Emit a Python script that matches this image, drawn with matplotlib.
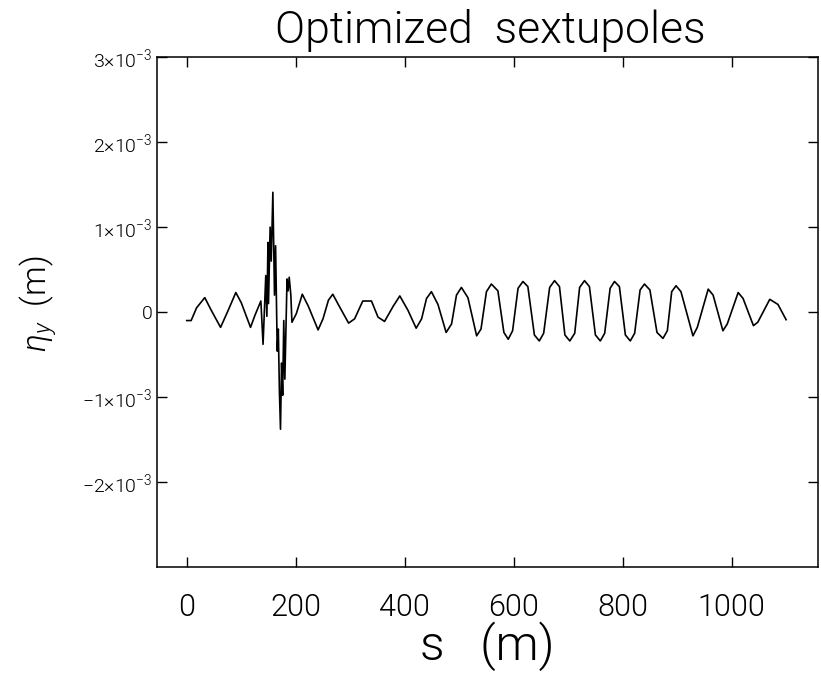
import numpy as np
import matplotlib
matplotlib.use("Agg")
import matplotlib.pyplot as plt

# vertical dispersion along the ring (eta in units of 1e-3 m)
s_pos = [0, 8, 18, 33, 45, 62, 76, 90, 100, 117, 125, 136, 140, 145, 147, 149, 150, 153,
         155, 158, 161, 163, 166, 168, 170, 172, 174, 176, 178, 180, 182, 184, 186, 188,
         191, 193, 201, 212, 223, 241, 250, 260, 268, 278, 297, 308, 323, 339, 351, 363,
         379, 391, 406, 421, 431, 440, 449, 461, 476, 486, 495, 504, 516, 532, 540, 550,
         559, 571, 582, 590, 598, 608, 617, 626, 638, 647, 655, 666, 675, 684, 694, 703,
         712, 721, 730, 739, 750, 759, 767, 777, 785, 794, 805, 814, 822, 832, 840, 850,
         863, 874, 882, 890, 898, 907, 929, 937, 957, 966, 984, 992, 1012, 1021, 1040,
         1048, 1070, 1085, 1100]
eta_vals = [-0.10, -0.10, 0.05, 0.17, 0.02, -0.18, 0.02, 0.23, 0.11, -0.18, -0.04, 0.13,
            -0.38, 0.43, -0.05, 0.82, 0.10, 1.00, 0.60, 1.41, 0.20, 0.78, -0.46, -0.20,
            -0.93, -1.38, -0.60, -0.98, -0.10, -0.79, -0.20, 0.39, 0.25, 0.41, 0.20, -0.12,
            -0.02, 0.21, 0.07, -0.21, -0.08, 0.14, 0.21, 0.09, -0.13, -0.08, 0.13, 0.13,
            -0.06, -0.11, 0.07, 0.19, 0.02, -0.19, -0.08, 0.16, 0.24, 0.09, -0.24, -0.14,
            0.20, 0.29, 0.17, -0.28, -0.20, 0.24, 0.33, 0.25, -0.24, -0.32, -0.22, 0.28,
            0.36, 0.30, -0.27, -0.34, -0.25, 0.29, 0.37, 0.30, -0.27, -0.34, -0.25, 0.29,
            0.37, 0.30, -0.27, -0.34, -0.25, 0.28, 0.36, 0.30, -0.27, -0.34, -0.25, 0.26,
            0.33, 0.26, -0.24, -0.31, -0.22, 0.24, 0.31, 0.24, -0.28, -0.18, 0.27, 0.20,
            -0.22, -0.14, 0.23, 0.16, -0.16, -0.12, 0.15, 0.09, -0.09]

x_ticks = [0, 200, 400, 600, 800, 1000]
y_ticks = [-2e-3, -1e-3, 0, 1e-3, 2e-3, 3e-3]
y_tick_labels = [r"$-2{\times}10^{-3}$", r"$-1{\times}10^{-3}$", "0",
                 r"$1{\times}10^{-3}$", r"$2{\times}10^{-3}$", r"$3{\times}10^{-3}$"]


def main():
    eta = np.array(eta_vals) * 1e-3

    plt.rcParams["font.family"] = ["Roboto", "DejaVu Sans"]
    plt.rcParams["font.weight"] = 300
    plt.rcParams["mathtext.fontset"] = "custom"
    plt.rcParams["mathtext.rm"] = "Roboto"
    plt.rcParams["mathtext.it"] = "Roboto:italic"

    fig = plt.figure(figsize=(8.21, 6.74), dpi=100)
    ax = fig.add_axes([0.191, 0.159, 0.805, 0.756])
    ax.plot(s_pos, eta, color="black", linewidth=1.2)

    ax.set_xlim(-55, 1158)
    ax.set_ylim(-3e-3, 3e-3)
    ax.set_xticks(x_ticks)
    ax.set_yticks(y_ticks)
    ax.set_yticklabels(y_tick_labels)

    ax.tick_params(direction="in", length=7, width=1, top=True, right=True,
                   labeltop=False, labelright=False)
    ax.tick_params(axis="x", labelsize=22, pad=19)
    ax.tick_params(axis="y", labelsize=14, pad=3)
    for spine in ax.spines.values():
        spine.set_linewidth(1.1)

    fig.text(0.597, 0.955, "Optimized  sextupoles", fontsize=32, ha="center", va="center")
    fig.text(0.593, 0.042, "s   (m)", fontsize=35, ha="center", va="center")
    fig.text(0.047, 0.55, r"$\eta_y$  (m)", fontsize=24, ha="center", va="center",
             rotation=90)

    fig.savefig("out.png", dpi=100)


if __name__ == "__main__":
    main()
